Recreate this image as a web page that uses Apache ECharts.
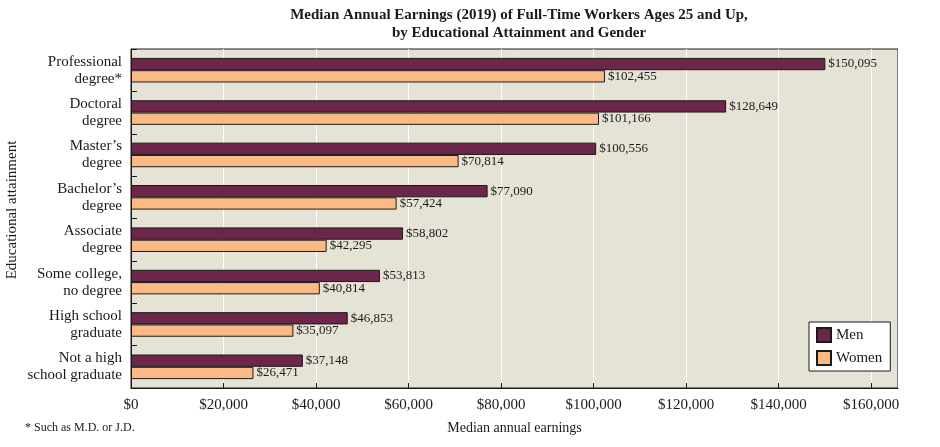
<!DOCTYPE html>
<html>
<head>
<meta charset="utf-8">
<script src="https://cdn.jsdelivr.net/npm/echarts@6/dist/echarts.min.js"></script>
<style>
html,body{margin:0;padding:0;background:#fff;}
#chart{width:940px;height:447px;}
</style>
</head>
<body>
<div id="chart"></div>
<script>
const categories = ["Professional\ndegree*", "Doctoral\ndegree", "Master’s\ndegree", "Bachelor’s\ndegree", "Associate\ndegree", "Some college,\nno degree", "High school\ngraduate", "Not a high\nschool graduate"];
const menValues = [150095, 128649, 100556, 77090, 58802, 53813, 46853, 37148];
const womenValues = [102455, 101166, 70814, 57424, 42295, 40814, 35097, 26471];
const xTicks = [0, 20000, 40000, 60000, 80000, 100000, 120000, 140000, 160000];
const seriesNames = ["Men", "Women"];

const FONT = "'Liberation Serif', 'Times New Roman', serif";
const fmt = v => '$' + Math.round(v).toLocaleString('en-US');

const chart = echarts.init(document.getElementById('chart'), null, {renderer: 'canvas'});
chart.setOption({
  animation: false,
  backgroundColor: '#ffffff',
  textStyle: {fontFamily: FONT, color: '#1a1a1a'},
  title: {
    text: 'Median Annual Earnings (2019) of Full-Time Workers Ages 25 and Up,\nby Educational Attainment and Gender',
    left: 514, top: 1, textAlign: 'center',
    textStyle: {fontFamily: FONT, fontSize: 15, fontWeight: 'bold', color: '#1a1a1a', lineHeight: 18}
  },
  graphic: [{
    type: 'text', left: 25, top: 422,
    style: {text: '* Such as M.D. or J.D.', font: "12px 'Liberation Serif', serif", fill: '#1a1a1a'}
  }, {
    type: 'text', x: 12, y: 210, rotation: Math.PI / 2,
    style: {text: 'Educational attainment', font: "15px 'Liberation Serif', serif", fill: '#1a1a1a', align: 'center', verticalAlign: 'middle'}
  }],
  legend: {
    data: seriesNames,
    orient: 'vertical',
    left: 809, top: 322,
    backgroundColor: '#ffffff',
    borderColor: '#1a1a1a', borderWidth: 1,
    padding: [5, 8, 5, 7],
    itemWidth: 14, itemHeight: 14, itemGap: 7,
    icon: 'rect',
    textStyle: {fontFamily: FONT, fontSize: 15, color: '#1a1a1a'}
  },
  grid: {
    left: 131, top: 49, right: 42, bottom: 59,
    show: true, backgroundColor: '#e5e3d5', borderColor: '#1a1a1a', borderWidth: 1,
    containLabel: false, outerBoundsMode: 'none'
  },
  xAxis: {
    type: 'value', min: 0, max: 165800, interval: 20000,
    name: 'Median annual earnings', nameLocation: 'middle', nameGap: 33,
    nameTextStyle: {fontFamily: FONT, fontSize: 14, color: '#1a1a1a'},
    axisLine: {show: true, lineStyle: {color: '#1a1a1a'}},
    axisTick: {show: true, inside: true, length: 5, lineStyle: {color: '#1a1a1a'}},
    axisLabel: {
      fontFamily: FONT, fontSize: 15, color: '#1a1a1a', margin: 10, showMaxLabel: false,
      formatter: v => xTicks.indexOf(v) >= 0 ? fmt(v) : ''
    },
    splitLine: {show: true, lineStyle: {color: '#ffffff', width: 1}}
  },
  yAxis: {
    type: 'category', data: categories, inverse: true,
    axisLine: {show: true, lineStyle: {color: '#1a1a1a'}},
    axisTick: {show: true, inside: true, length: 6, lineStyle: {color: '#1a1a1a'}},
    axisLabel: {fontFamily: FONT, fontSize: 15, color: '#1a1a1a', margin: 9, lineHeight: 17, align: 'right'},
    splitLine: {show: false}
  },
  series: [
    {
      name: seriesNames[0], type: 'bar', data: menValues,
      barGap: '0%', barCategoryGap: '42%',
      itemStyle: {color: '#6b2649', borderColor: '#1a1a1a', borderWidth: 1},
      label: {show: true, position: 'right', distance: 3, fontFamily: FONT, fontSize: 13, color: '#1a1a1a', formatter: p => fmt(p.value)}
    },
    {
      name: seriesNames[1], type: 'bar', data: womenValues,
      barGap: '0%', barCategoryGap: '42%',
      itemStyle: {color: '#fbb983', borderColor: '#1a1a1a', borderWidth: 1},
      label: {show: true, position: 'right', distance: 3, fontFamily: FONT, fontSize: 13, color: '#1a1a1a', formatter: p => fmt(p.value)}
    }
  ]
});
</script>
</body>
</html>
